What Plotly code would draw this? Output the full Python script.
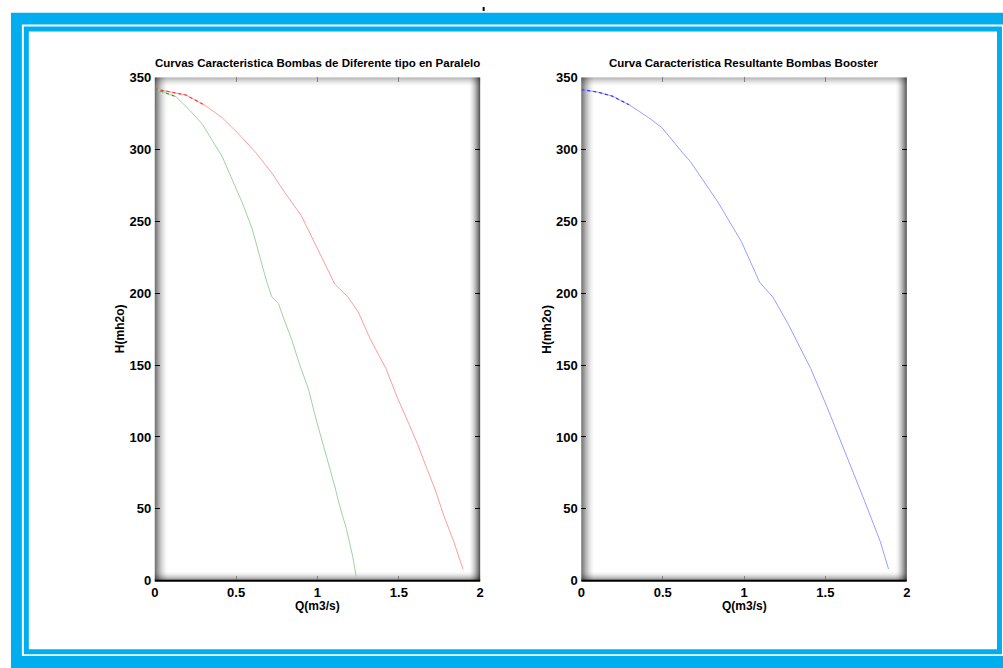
import plotly.graph_objects as go

# Pump curves: flow Q (m3/s) vs head H (m H2O)
q_bomba1 = [0, 0.11, 0.19, 0.31, 0.415, 0.516, 0.618, 0.72, 0.80, 0.90, 1.035, 1.07,
            1.106, 1.15, 1.187, 1.25, 1.325, 1.421, 1.492, 1.563, 1.614, 1.675, 1.726,
            1.776, 1.837, 1.894]
h_bomba1 = [342, 339.6, 337.8, 330.5, 321.9, 310.6, 298.1, 283.4, 269.8, 254, 223.4, 215,
            206.4, 201.5, 197.3, 187, 168, 147.5, 127.1, 108.9, 95.3, 77.3, 62.5,
            45.5, 27.4, 8.2]

q_bomba2 = [0, 0.13, 0.211, 0.293, 0.354, 0.415, 0.476, 0.537, 0.598, 0.648, 0.689, 0.72,
            0.76, 0.80, 0.841, 0.892, 0.943, 0.994, 1.045, 1.106, 1.136, 1.177, 1.218, 1.238]
h_bomba2 = [342, 336.6, 327.6, 317.4, 306, 294.8, 278.9, 263, 244.9, 223.4, 207.5, 197.3,
            192.8, 180, 167.9, 149.7, 133.9, 111.2, 90.9, 65.9, 52.3, 36.5, 16.1, 2.9]

q_booster = [0, 0.1, 0.19, 0.293, 0.415, 0.496, 0.618, 0.67, 0.841, 0.984, 1.096, 1.177,
             1.268, 1.41, 1.512, 1.634, 1.736, 1.837, 1.888]
h_booster = [341.5, 339.8, 337, 331, 321.9, 315, 298.1, 291.5, 263, 235.8, 207.5, 197.3,
             179.2, 147.5, 120.3, 86.3, 56.9, 27.4, 8.2]

x_ticks = [0, 0.5, 1, 1.5, 2]
y_ticks = [0, 50, 100, 150, 200, 250, 300, 350]

titulo1 = "Curvas Caracteristica Bombas de Diferente tipo en Paralelo"
titulo2 = "Curva Caracteristica Resultante Bombas Booster"
x_label = "Q(m3/s)"
y_label = "H(mh2o)"

W, H = 1003, 668
FONT = "Liberation Sans"
FRAME_BLUE = "#00AEEF"


def px(x):
    return x / W


def py(y):
    return 1 - y / H


# Plot area boxes in pixels (left, right, top, bottom)
boxes = [(152, 480, 72, 587), (582, 910, 72, 587)]

fig = go.Figure()

series = [
    (q_bomba1, h_bomba1, "#ff9c9c", "#ff2020", 4, "x", "y"),
    (q_bomba2, h_bomba2, "#9cd49c", "#1f9a1f", 2, "x", "y"),
    (q_booster, h_booster, "#9c9cff", "#2020ff", 4, "x2", "y2"),
]
for q, h, light, strong, n_head, xa, ya in series:
    fig.add_trace(go.Scatter(x=q, y=h, mode="lines", line=dict(color=light, width=1),
                             xaxis=xa, yaxis=ya))
    # the flat head of each curve renders as a darker dotted stroke
    fig.add_trace(go.Scatter(x=q[:n_head], y=h[:n_head], mode="lines",
                             line=dict(color=strong, width=1.3, dash="dot"),
                             opacity=0.8, xaxis=xa, yaxis=ya))

tickfont = dict(family=FONT, size=13, color="black", weight="bold")

axis_common = dict(showgrid=False, zeroline=False, ticks="inside", ticklen=5,
                   showline=True, linecolor="rgba(0,0,0,0)", mirror="ticks",
                   tickfont=tickfont, fixedrange=True)

layout_axes = {}
for i, (l, r, t, b) in enumerate(boxes):
    sx = "" if i == 0 else str(i + 1)
    layout_axes["xaxis" + sx] = dict(
        domain=[px(l), px(r)], range=[0, 2], tickvals=x_ticks,
        ticktext=[f"{v:g}" for v in x_ticks], tickcolor="#808080",
        anchor="y" + sx, **axis_common)
    layout_axes["yaxis" + sx] = dict(
        domain=[py(b), py(t)], range=[0, 350], tickvals=y_ticks,
        tickcolor="black", anchor="x" + sx, **axis_common)

shapes = []

# Window frame: double blue border
for (x0, y0, x1, y1, col) in [(7, 6, 1030, 700, FRAME_BLUE),
                              (18, 18, 1008, 664, "white"),
                              (20, 20, 1006, 662, FRAME_BLUE),
                              (25, 25, 1001, 657, "white")]:
    shapes.append(dict(type="rect", xref="paper", yref="paper",
                       x0=px(x0), x1=px(x1), y0=py(y0), y1=py(y1),
                       fillcolor=col, line=dict(width=0), layer="below"))

# Clipped glyph at the top edge
shapes.append(dict(type="line", xref="paper", yref="paper",
                   x0=px(483.5), x1=px(483.5), y0=py(0), y1=py(4),
                   line=dict(color="black", width=2)))


def edge_shading(sx, w_px, h_px):
    xr, yr = f"x{sx} domain", f"y{sx} domain"
    out = []
    specs = [("left", 14, 0.62), ("right", 12, 0.72), ("top", 10, 0.32), ("bottom", 10, 0.5)]
    for side, n, a0 in specs:
        for k in range(n):
            a = a0 * (1 - k / n) ** 2
            if side == "left":
                x0, x1, y0, y1 = k / w_px, (k + 1) / w_px, 0, 1
            elif side == "right":
                x0, x1, y0, y1 = 1 - (k + 1) / w_px, 1 - k / w_px, 0, 1
            elif side == "top":
                x0, x1, y0, y1 = 0, 1, 1 - (k + 1) / h_px, 1 - k / h_px
            else:
                x0, x1, y0, y1 = 0, 1, k / h_px, (k + 1) / h_px
            out.append(dict(type="rect", xref=xr, yref=yr, x0=x0, x1=x1, y0=y0, y1=y1,
                            fillcolor=f"rgba(0,0,0,{a:.3f})", line=dict(width=0),
                            layer="below"))
    # dark base line
    out.append(dict(type="line", xref=xr, yref=yr, x0=0, x1=1, y0=0, y1=0,
                    line=dict(color="black", width=2), layer="above"))
    return out


for i, (l, r, t, b) in enumerate(boxes):
    sx = "" if i == 0 else str(i + 1)
    shapes += edge_shading(sx, r - l, b - t)

annotations = []
for (l, r, t, b), title in zip(boxes, [titulo1, titulo2]):
    cx = (l + r) / 2
    annotations.append(dict(text=title, x=px(cx), y=py(57), xref="paper", yref="paper",
                            showarrow=False, xanchor="center", yanchor="middle",
                            font=dict(family=FONT, size=11.5, color="black", weight="bold")))
    annotations.append(dict(text=x_label, x=px(cx), y=py(613), xref="paper", yref="paper",
                            showarrow=False, xanchor="center", yanchor="middle",
                            font=dict(family=FONT, size=12, color="black", weight="bold")))
    annotations.append(dict(text=y_label, x=px(l - 35), y=py((t + b) / 2), xref="paper",
                            yref="paper", showarrow=False, textangle=-90,
                            xanchor="center", yanchor="middle",
                            font=dict(family=FONT, size=12, color="black", weight="bold")))

fig.update_layout(
    width=W, height=H, autosize=False,
    margin=dict(l=0, r=0, t=0, b=0),
    paper_bgcolor="white", plot_bgcolor="rgba(0,0,0,0)",
    showlegend=False,
    shapes=shapes, annotations=annotations,
    **layout_axes,
)

fig.write_html("out.html", config=dict(displayModeBar=False))
